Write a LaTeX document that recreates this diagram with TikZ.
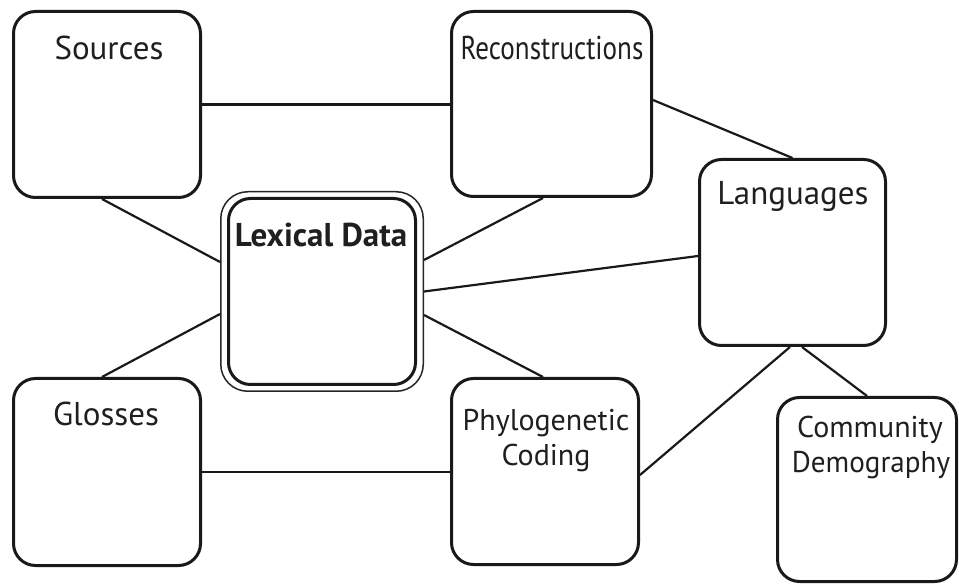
\documentclass[tikz,border=0pt]{standalone}
\usepackage{fontspec}
\setmainfont{PT Sans}
\usetikzlibrary{calc}
\tikzset{
  box/.style={draw=black!90, line width=3pt, rounded corners=22pt, inner sep=0pt},
  boxouter/.style={draw=black!85, line width=1.5pt, rounded corners=27pt, inner sep=0pt},
  link/.style={draw=black!90, line width=2.2pt},
  txt/.style={anchor=base, inner sep=0pt, text=black!88, font=\fontsize{33}{38}\selectfont},
  txtsm/.style={txt, font=\fontsize{30}{36}\selectfont},
}
\begin{document}
\begin{tikzpicture}[x=1pt, y=-1pt]
\useasboundingbox (0,0) rectangle (959,585);
% boxes
\node[box, minimum width=187pt, minimum height=186pt] (src) at (107,104.5) {};
\node[box, minimum width=200pt, minimum height=185pt] (rec) at (551.5,104) {};
\node[box, minimum width=186pt, minimum height=186pt] (lang) at (792.5,252.5) {};
\node[boxouter, minimum width=202.5pt, minimum height=199.5pt] (lexo) at (322,291.5) {};
\node[box, minimum width=187pt, minimum height=186pt] (lex) at (322,291.5) {};
\node[box, minimum width=187pt, minimum height=187pt] (gls) at (107,472) {};
\node[box, minimum width=187pt, minimum height=186pt] (phy) at (545,471.5) {};
\node[box, minimum width=179pt, minimum height=184pt] (com) at (867,489.5) {};
% labels
\node[txt] (srct) at (109,60) {Sources};
\node[txt] (rect) at (552,60) {\scalebox{0.82}[1]{Reconstructions}};
\node[txt] (langt) at (793,205) {Languages};
\node[txt, font=\fontsize{33}{38}\selectfont\bfseries] (lext) at (321,247) {Lexical Data};
\node[txt] (glst) at (106,425) {Glosses};
\node[txtsm] (phyt1) at (546,430) {Phylogenetic};
\node[txtsm] (phyt2) at (546,465) {Coding};
\node[txtsm] (comt1) at (870,437) {Community};
\node[txtsm, xscale=0.97] (comt2) at (871,472) {Demography};
% connectors
\draw[link] (src.east) -- (src.east -| rec.west);
\draw[link] ($(src.south)+(-5,0)$) -- ($(lexo.west)+(0,-29.5)$);
\draw[link] ($(rec.south)+(-8.5,0)$) -- ($(lexo.east)+(0,-31.5)$);
\draw[link] ($(rec.east)+(0,-4)$) -- (lang.north);
\draw[link] (lexo.east) -- ($(lang.west)+(0,3.5)$);
\draw[link] ($(lexo.east)+(0,23.5)$) -- ($(phy.north)+(-2,0)$);
\draw[link] ($(lexo.west)+(0,22.5)$) -- ($(gls.north)+(-5,0)$);
\draw[link] (gls.east) -- (gls.east -| phy.west);
\draw[link] ($(phy.east)+(0,3.5)$) -- ($(lang.south)+(-2.5,0)$);
\draw[link] ($(lang.south)+(9.5,0)$) -- (com.north);
\end{tikzpicture}
\end{document}
